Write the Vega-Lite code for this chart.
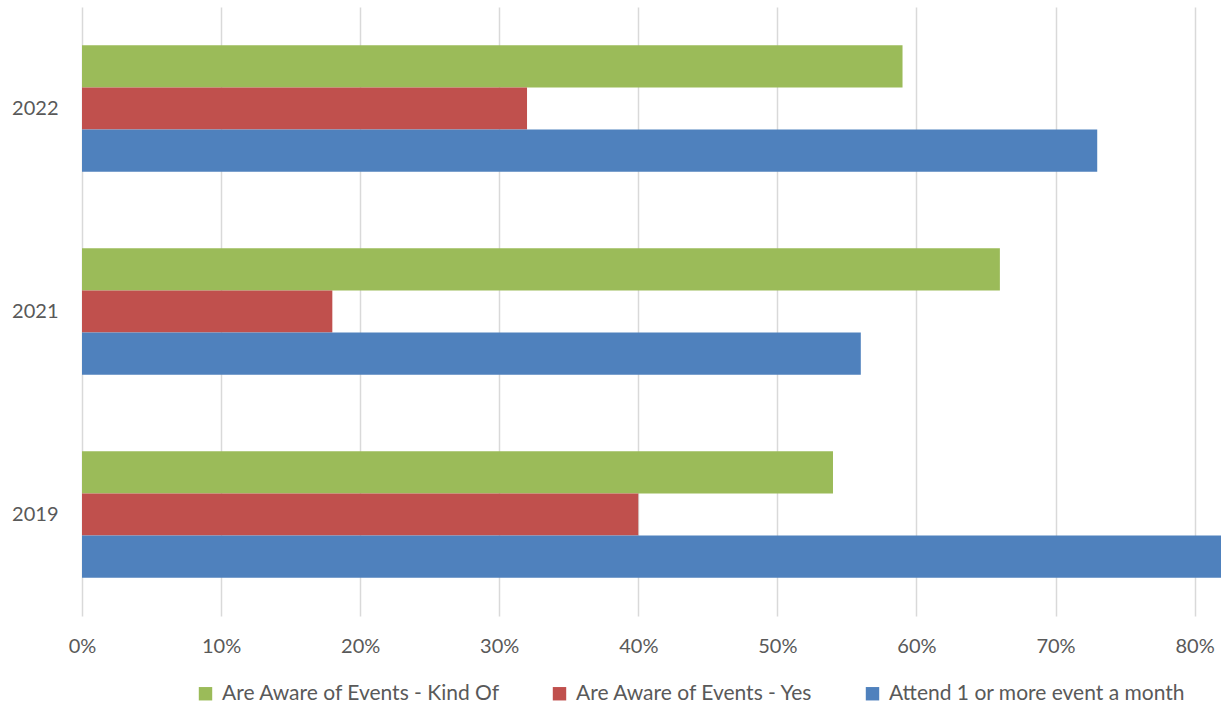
{
  "$schema": "https://vega.github.io/schema/vega-lite/v6.json",
  "width": 1139,
  "height": 609,
  "autosize": "none",
  "padding": {"left": 82, "top": 7, "right": 0, "bottom": 90},
  "background": "white",
  "config": {
    "font": "Lato",
    "view": {"stroke": null},
    "axis": {"labelColor": "#595959", "labelFont": "Lato", "labelFontSize": 20}
  },
  "data": {
    "values": [
      {"year": "2022", "series": "Are Aware of Events - Kind Of", "share": 0.59},
      {"year": "2022", "series": "Are Aware of Events - Yes", "share": 0.32},
      {"year": "2022", "series": "Attend 1 or more event a month", "share": 0.73},
      {"year": "2021", "series": "Are Aware of Events - Kind Of", "share": 0.66},
      {"year": "2021", "series": "Are Aware of Events - Yes", "share": 0.18},
      {"year": "2021", "series": "Attend 1 or more event a month", "share": 0.56},
      {"year": "2019", "series": "Are Aware of Events - Kind Of", "share": 0.54},
      {"year": "2019", "series": "Are Aware of Events - Yes", "share": 0.40},
      {"year": "2019", "series": "Attend 1 or more event a month", "share": 0.84}
    ]
  },
  "mark": {"type": "bar", "clip": true},
  "encoding": {
    "y": {
      "field": "year",
      "type": "nominal",
      "sort": ["2022", "2021", "2019"],
      "scale": {"paddingInner": 0.378, "paddingOuter": 0.189},
      "axis": {
        "title": null,
        "domain": false,
        "ticks": false,
        "grid": false,
        "labelPadding": 24
      }
    },
    "yOffset": {
      "field": "series",
      "type": "nominal",
      "sort": [
        "Are Aware of Events - Kind Of",
        "Are Aware of Events - Yes",
        "Attend 1 or more event a month"
      ],
      "scale": {"paddingInner": 0, "paddingOuter": 0}
    },
    "x": {
      "field": "share",
      "type": "quantitative",
      "scale": {"domain": [0, 0.819], "nice": false},
      "axis": {
        "title": null,
        "format": ".0%",
        "values": [0, 0.1, 0.2, 0.3, 0.4, 0.5, 0.6, 0.7, 0.8],
        "domain": false,
        "ticks": false,
        "grid": true,
        "gridColor": "#d9d9d9",
        "gridWidth": 1.5,
        "labelFlush": false,
        "labelPadding": 20
      }
    },
    "color": {
      "field": "series",
      "type": "nominal",
      "sort": [
        "Are Aware of Events - Kind Of",
        "Are Aware of Events - Yes",
        "Attend 1 or more event a month"
      ],
      "scale": {
        "domain": [
          "Are Aware of Events - Kind Of",
          "Are Aware of Events - Yes",
          "Attend 1 or more event a month"
        ],
        "range": ["#9bbb59", "#c0504d", "#4f81bd"]
      },
      "legend": {
        "title": null,
        "orient": "none",
        "direction": "horizontal",
        "legendX": 113,
        "legendY": 676,
        "symbolType": "square",
        "symbolSize": 180,
        "symbolStrokeWidth": 0,
        "symbolOpacity": 1,
        "labelFont": "Lato",
        "labelFontSize": 21,
        "labelColor": "#595959",
        "labelOffset": 6,
        "columnPadding": 48,
        "labelLimit": 400
      }
    }
  }
}
